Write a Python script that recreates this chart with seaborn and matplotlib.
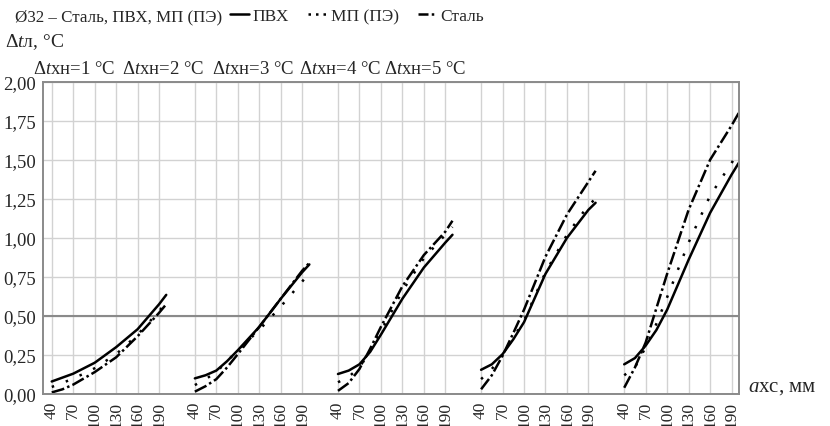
import pandas as pd
import matplotlib
matplotlib.use('Agg')
import matplotlib.pyplot as plt
from matplotlib.lines import Line2D
import seaborn as sns

# Data
a_xc = [40, 55, 70, 85, 100, 130, 160, 190, 200]
dt_xn = [1, 2, 3, 4, 5]
tick_vals = [40, 70, 100, 130, 160, 190]

pvc = [
    [0.08, 0.105, 0.13, 0.165, 0.20, 0.30, 0.415, 0.575, 0.635],
    [0.10, 0.12, 0.15, 0.21, 0.28, 0.43, 0.61, 0.78, 0.83],
    [0.128, 0.15, 0.19, 0.27, 0.38, 0.61, 0.81, 0.97, 1.02],
    [0.155, 0.19, 0.255, 0.35, 0.46, 0.77, 1.00, 1.18, 1.225],
    [0.19, 0.23, 0.31, 0.41, 0.54, 0.86, 1.16, 1.405, 1.48],
]
mp = [
    [0.045, 0.07, 0.10, 0.13, 0.165, 0.255, 0.38, 0.53, 0.59],
    [0.057, 0.095, 0.14, 0.21, 0.28, 0.41, 0.56, 0.72, 0.78],
    [0.075, 0.11, 0.17, 0.28, 0.40, 0.66, 0.87, 1.02, 1.07],
    [0.095, 0.16, 0.25, 0.36, 0.47, 0.78, 1.02, 1.21, 1.25],
    [0.12, 0.17, 0.30, 0.45, 0.62, 0.97, 1.27, 1.48, 1.55],
]
steel = [
    [0.01, 0.03, 0.06, 0.10, 0.14, 0.235, 0.37, 0.52, 0.575],
    [0.015, 0.05, 0.095, 0.17, 0.255, 0.43, 0.61, 0.79, 0.84],
    [0.02, 0.07, 0.16, 0.29, 0.43, 0.69, 0.89, 1.04, 1.11],
    [0.03, 0.12, 0.245, 0.39, 0.54, 0.88, 1.15, 1.36, 1.43],
    [0.04, 0.17, 0.33, 0.55, 0.77, 1.18, 1.50, 1.72, 1.80],
]
series = {'ПВХ': pvc, 'МП (ПЭ)': mp, 'Сталь': steel}
y_ticks = [0, 0.25, 0.5, 0.75, 1.0, 1.25, 1.5, 1.75, 2.0]

group_step = 200  # each Δtхн block is shifted along one shared axis

rows = []
for name, groups in series.items():
    for gi, vals in enumerate(groups):
        for x, v in zip(a_xc, vals):
            rows.append({'pos': x + gi * group_step, 'val': v,
                         'series': name, 'group': gi})
df = pd.DataFrame(rows)

sns.set_style('white')
plt.rcParams['font.family'] = ['Liberation Serif', 'DejaVu Serif']
plt.rcParams['mathtext.fontset'] = 'custom'
plt.rcParams['mathtext.rm'] = 'Liberation Serif'
plt.rcParams['mathtext.it'] = 'Liberation Serif:italic'

dash_map = {'ПВХ': '', 'МП (ПЭ)': (1, 5), 'Сталь': (5.2, 1.3, 1, 1.3)}

fig = plt.figure(figsize=(8.3, 4.27), dpi=100)
ax = fig.add_axes([0.052, 0.075, 0.838, 0.731])

sns.lineplot(data=df, x='pos', y='val', hue='series', style='series',
             units='group', estimator=None, sort=True,
             palette={k: 'black' for k in series}, dashes=dash_map,
             lw=1.8, legend=False, ax=ax)

# ticks and grid
xt = [t + gi * group_step for gi in range(len(dt_xn)) for t in tick_vals]
ax.set_xticks(xt)
ax.set_xticklabels([str(t) for _ in dt_xn for t in tick_vals],
                   rotation=90, fontsize=12.5)
ax.set_yticks(y_ticks)
ax.set_yticklabels([f'{v:.2f}'.replace('.', ',') for v in y_ticks], fontsize=13.5)
ax.set_xlim(28, 1000)
ax.set_ylim(0, 2.0)
ax.grid(True, color='#d2d2d2', lw=1.0)
ax.axhline(0.5, color='#8a8a8a', lw=1.5, zorder=1)
ax.set_axisbelow(True)
for s in ax.spines.values():
    s.set_color('#8a8a8a')
    s.set_linewidth(1.4)
ax.tick_params(axis='both', length=3, width=1, color='#8a8a8a', pad=2)
ax.set_xlabel('')
ax.set_ylabel('')

# group titles
title_x = [33, 122, 212, 299, 384]
for tx, d in zip(title_x, dt_xn):
    fig.text(tx / 830, 1 - 70 / 427, r'$\Delta\mathit{t}$хн=' + f'{d} °C',
             fontsize=13.5, va='center', ha='left')

fig.text(5 / 830, 1 - 42 / 427, r'$\Delta\mathit{t}$л, °C', fontsize=14,
         va='center', ha='left')
fig.text(748 / 830, 1 - 388 / 427, r'$\mathit{a}$хс, мм', fontsize=15,
         va='center', ha='left')
fig.text(15 / 830, 1 - 17 / 427, 'Ø32 – Сталь, ПВХ, МП (ПЭ)', fontsize=12.2,
         va='center', ha='left')

leg_dashes = {'ПВХ': None, 'МП (ПЭ)': (1, 2), 'Сталь': (4, 1.3, 1, 1.3)}
handles = []
for k in series:
    h = Line2D([], [], color='black', lw=1.8)
    if leg_dashes[k]:
        h.set_dashes(leg_dashes[k])
    handles.append(h)
fig.legend(handles, list(series.keys()), loc='center left',
           bbox_to_anchor=(230 / 830, 1 - 17 / 427), ncol=3, frameon=False,
           fontsize=12.5, handlelength=1.1, handletextpad=0.2,
           columnspacing=1.1, borderaxespad=0, borderpad=0)

fig.savefig('out.png', dpi=100)
